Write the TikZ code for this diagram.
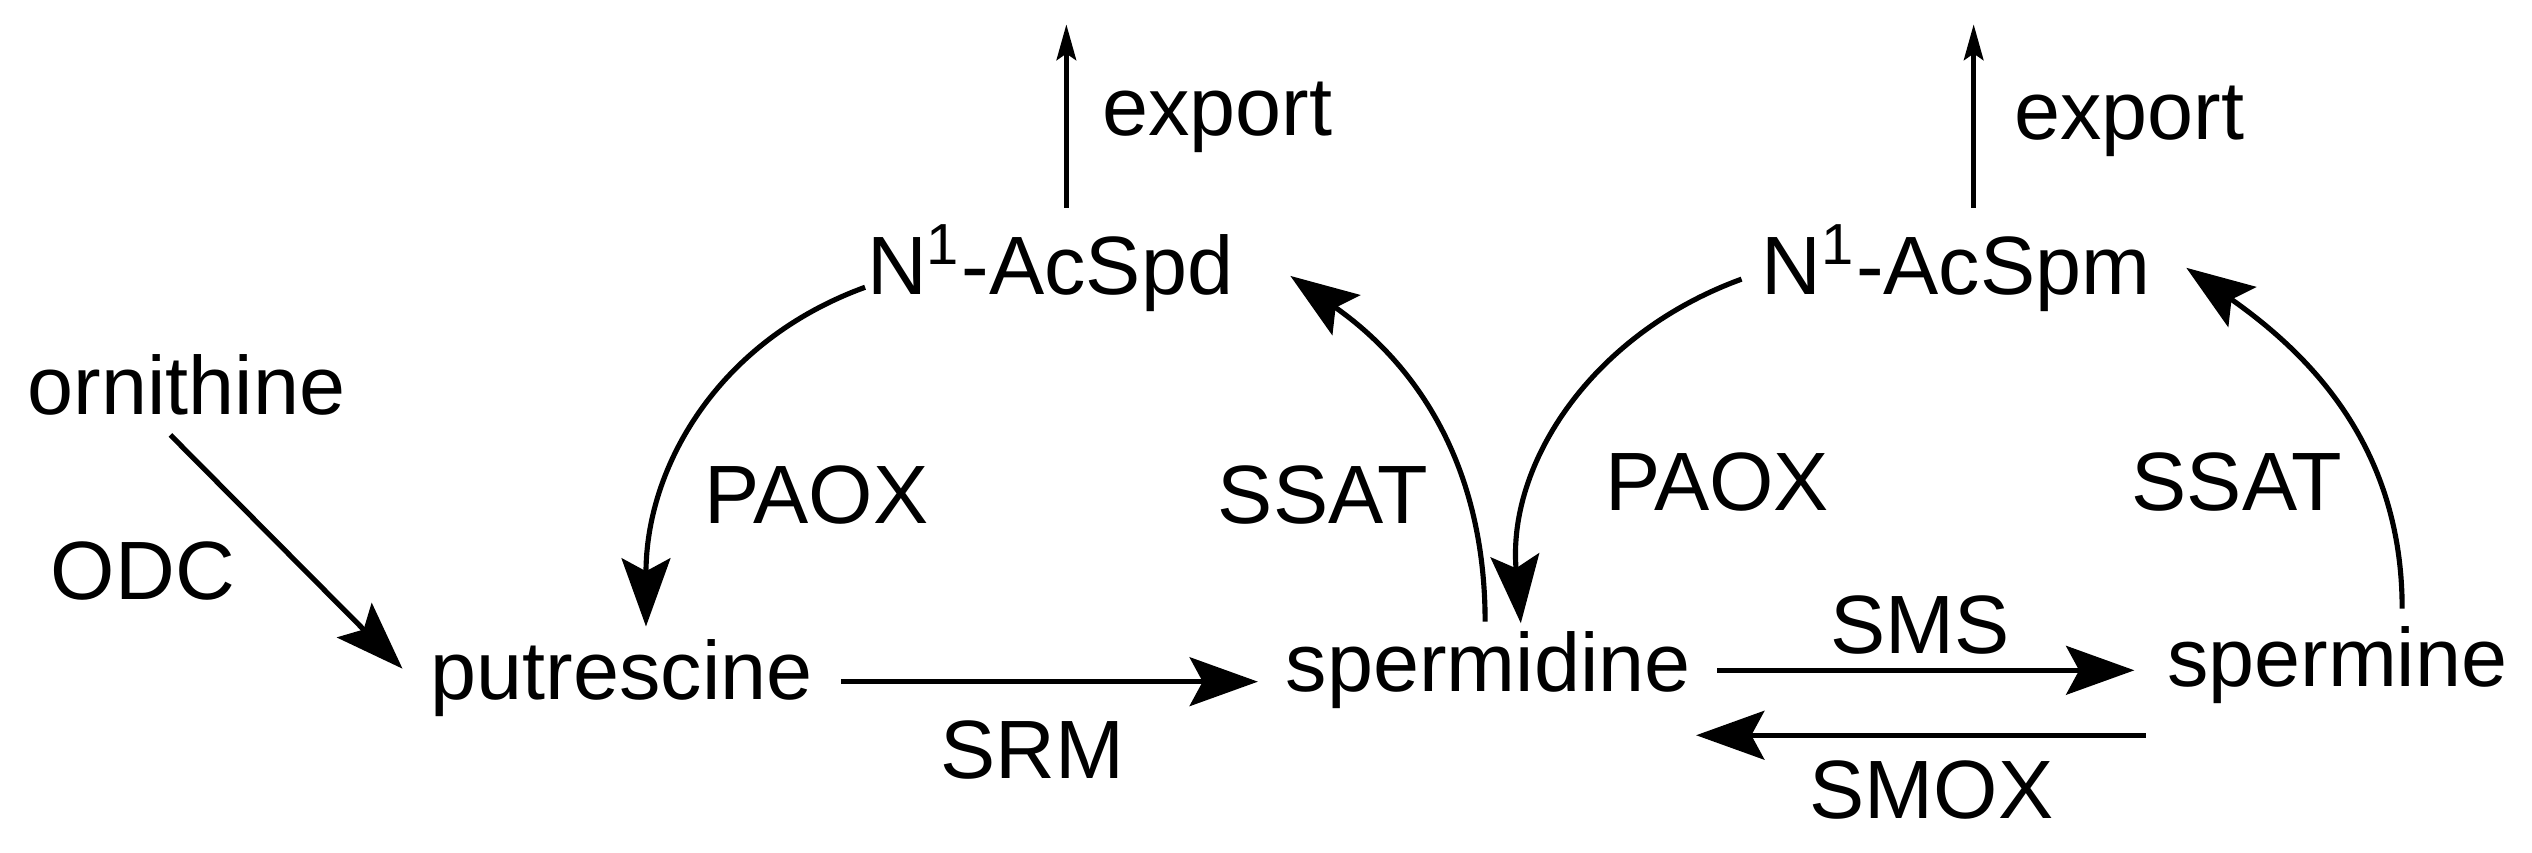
\documentclass[tikz,border=0pt]{standalone}
\usepackage{fontspec}
\setmainfont{Liberation Sans}
\usetikzlibrary{arrows.meta}
\begin{document}
\begin{tikzpicture}[x=0.01cm,y=-0.01cm,
  lbl/.style={font=\fontsize{14.5}{16}\selectfont, inner sep=0pt},
  big/.style={line width=0.9pt,-{Stealth[length=0.42cm,width=0.3cm,inset=0.08cm]}},
  small/.style={line width=0.9pt,-{Stealth[length=0.22cm,width=0.12cm,inset=0.04cm]}}]
\useasboundingbox (0,0) rectangle (1560,525);
\node[lbl] (orn) at (115,237) {ornithine};
\node[lbl] (odc) at (88,352) {ODC};
\node[lbl] (put) at (383,418) {putrescine};
\node[lbl] (spd) at (917,413) {spermidine};
\node[lbl] (spm) at (1440,410) {spermine};
\node[lbl] (acspd) at (647,165) {N\textsuperscript{1}-AcSpd};
\node[lbl] (acspm) at (1205,165) {N\textsuperscript{1}-AcSpm};
\node[lbl] (ex1) at (750,72) {export};
\node[lbl] (ex2) at (1312,75) {export};
\node[lbl] (srm) at (636,462) {SRM};
\node[lbl] (sms) at (1183,385) {SMS};
\node[lbl] (smox) at (1190,487) {SMOX};
\node[lbl] (paox1) at (503,305) {PAOX};
\node[lbl] (ssat1) at (815,305) {SSAT};
\node[lbl] (paox2) at (1058,297) {PAOX};
\node[lbl] (ssat2) at (1378,297) {SSAT};
\coordinate (e1) at (657,15);
\coordinate (e2) at (1216,15);
\draw[small] (657,128) -- (e1);
\draw[small] (1216,128) -- (e2);
\draw[big] (105,268) -- (248,412);
\draw[big] (518,420) -- (775,420);
\draw[big] (1058,413) -- (1315,413);
\draw[big] (1322,453) -- (1045,453);
\draw[big] (533,177) to[out=200,in=90] (398,386);
\draw[big] (915,383) to[out=90,in=-35] (795,170);
\draw[big] (1073,172) to[out=200,in=95] (937,384);
\draw[big] (1480,375) to[out=90,in=-35] (1347,165);
\end{tikzpicture}
\end{document}
